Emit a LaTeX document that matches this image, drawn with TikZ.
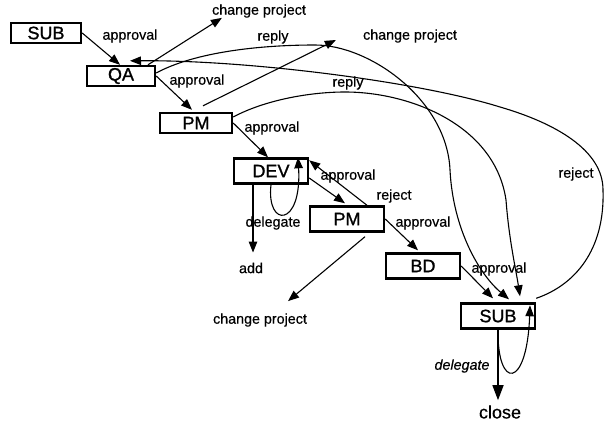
\documentclass[tikz,border=0pt]{standalone}
\usepackage{fontspec}
\setmainfont{Liberation Sans}
\newfontfamily\boxfont[FakeBold=1.2]{Liberation Sans}
\newfontfamily\lblfont[FakeBold=0.5]{Liberation Sans}
\usetikzlibrary{arrows.meta}
\begin{document}
\begin{tikzpicture}[x=1pt,y=-1pt,
  box/.style={draw, line width=2.4pt, minimum width=74pt, minimum height=25pt, inner sep=0pt, font=\boxfont\fontsize{18}{18}\selectfont},
  lbl/.style={inner sep=0pt, font=\lblfont\fontsize{14.3}{14}\selectfont},
  arr/.style={line width=1.1pt, -{Triangle[length=11pt,width=8.5pt]}},
  crv/.style={line width=1.1pt}
]
\useasboundingbox (0,0) rectangle (612,422);

% boxes
\node[box, minimum width=70pt, minimum height=20pt] (sub1) at (46,33) {SUB};
\node[box, minimum width=68pt, minimum height=20pt] (qa) at (121,76) {QA};
\node[box, minimum width=72pt, minimum height=20pt] (pm1) at (196,123) {PM};
\node[box] (dev) at (271,171) {DEV};
\node[box] (pm2) at (347,219) {PM};
\node[box] (bd) at (423,266) {BD};
\node[box] (sub2) at (498,316) {SUB};

% free text nodes
\node[lbl] (cp1) at (259,11) {change project};
\node[lbl] (cp2) at (410,36) {change project};
\node[lbl] (cp3) at (260,320) {change project};
\node[lbl] (add) at (251,268) {add};
\node[lbl, font=\lblfont\fontsize{18}{18}\selectfont] (close) at (500,412) {close};

% labels
\node[lbl] (l1) at (130,36) {approval};
\node[lbl] (l2) at (273,37) {reply};
\node[lbl] (l3) at (197,81) {approval};
\node[lbl] (l4) at (272,128) {approval};
\node[lbl] (l5) at (348,83) {reply};
\node[lbl] (l6) at (348,176) {approval};
\node[lbl] (l7) at (394,196) {reject};
\node[lbl] (l8) at (273,223) {delegate};
\node[lbl] (l9) at (423,223) {approval};
\node[lbl] (l10) at (499,269) {approval};
\node[lbl] (l11) at (576,174) {reject};
\node[lbl, font=\lblfont\fontsize{14.3}{14}\itshape] (l12) at (462,366) {delegate};

% straight connectors
\draw[arr] (sub1.east) -- ([xshift=-1pt]qa.north);
\draw[arr] ([xshift=27pt]qa.north) -- ([xshift=10pt]cp1.south west);
\draw[arr] (qa.east) -- ([xshift=-4pt,yshift=2pt]pm1.north);
\draw[arr] ([xshift=7pt,yshift=6pt]pm1.north) -- ([xshift=-27pt,yshift=-4pt]cp2.west);
\draw[arr] (pm1.east) -- ([xshift=-3pt]dev.north);
\draw[arr] ([yshift=-7pt]dev.east) -- ([xshift=-2pt,yshift=2pt]pm2.north);
\draw[arr] ([xshift=20pt]pm2.north) -- ([yshift=-3pt]dev.north east);
\draw[arr] ([xshift=-18pt]dev.south) -- ([xshift=2pt,yshift=10pt]add.north);
\draw[arr] ([xshift=18pt,yshift=-4pt]pm2.south) -- ([xshift=28pt,yshift=12pt]cp3.north);
\draw[arr] (pm2.east) -- ([xshift=-5pt,yshift=2pt]bd.north);
\draw[arr] (bd.east) -- ([xshift=-5pt,yshift=4pt]sub2.north);
\draw[arr, line width=1.5pt, -{Triangle[length=15pt,width=11pt]}] (sub2.south) -- ([xshift=-2pt,yshift=5pt]close.north);

% self loops
\draw[arr] (dev.south) .. controls (266,228) and (302,228) .. ([xshift=27pt]dev.north);
\draw[arr] (sub2.south) .. controls (497,390) and (527,390) .. ([xshift=32pt,yshift=-3pt]sub2.north);

% long curves
\coordinate (a1) at (315,45);
\coordinate (a2) at (450,170);
\draw[arr] ([yshift=3pt]qa.east) .. controls (195,52) and (260,45) .. (a1)
  .. controls (370,45) and (447,100) .. (a2)
  .. controls (453,230) and (480,275) .. ([xshift=11pt,yshift=3pt]sub2.north);

\coordinate (b1) at (603,190);
\coordinate (b2) at (500,107);
\draw[arr] ([yshift=4pt]sub2.north east) .. controls (575,285) and (605,250) .. (b1)
  .. controls (603,150) and (555,123) .. (b2)
  .. controls (420,82) and (250,60) .. ([xshift=9pt,yshift=4pt]qa.north);

\coordinate (c1) at (345,92);
\coordinate (c2) at (506,200);
\draw[arr] ([yshift=6pt]pm1.east) .. controls (265,100) and (310,92) .. (c1)
  .. controls (410,92) and (495,125) .. (c2)
  .. controls (509,240) and (516,270) .. ([xshift=22pt,yshift=6pt]sub2.north);
\end{tikzpicture}
\end{document}
